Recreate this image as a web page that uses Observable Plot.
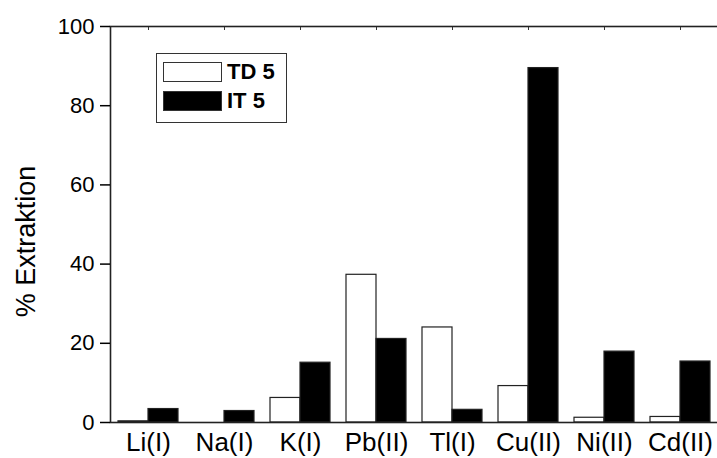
<!DOCTYPE html>
<html><head><meta charset="utf-8">
<script src="https://cdn.jsdelivr.net/npm/d3@7"></script>
<script src="https://cdn.jsdelivr.net/npm/@observablehq/plot@0.6"></script>
<style>
body{margin:0;background:#fff;font-family:"Liberation Sans",Arial,Helvetica,sans-serif}
#wrap{position:relative;width:717px;height:458px;overflow:hidden}
#legend{position:absolute;left:156px;top:53px;width:131px;height:70px;border:1.5px solid #333;background:#fff;box-sizing:border-box;padding:8px 0 0 6px}
.row{display:flex;align-items:center;height:20px;margin-bottom:9px}
.sw{width:59px;height:20px;border:1.2px solid #333;box-sizing:border-box;margin-right:5px}
.lt{font-weight:bold;font-size:22px;color:#000}
</style></head><body><div id="wrap"></div>
<script>
const categories = ["Li(I)","Na(I)","K(I)","Pb(II)","Tl(I)","Cu(II)","Ni(II)","Cd(II)"];
const seriesNames = ["TD 5","IT 5"];
const td5 = [0.3, 0, 6.2, 37.3, 24.0, 9.2, 1.2, 1.4];
const it5 = [3.4, 2.9, 15.1, 21.1, 3.2, 89.5, 17.9, 15.4];
const yTicks = [0, 20, 40, 60, 80, 100];
const yLabel = "% Extraktion";
const seriesFill = ["#ffffff", "#000000"];

const data = categories.flatMap((c, i) => [
  {cat: c, series: seriesNames[0], value: td5[i]},
  {cat: c, series: seriesNames[1], value: it5[i]}
]);

const chart = Plot.plot({
  width: 717, height: 458,
  marginLeft: 107, marginRight: -3, marginTop: 26, marginBottom: 36,
  style: {fontFamily: '"Liberation Sans", Arial, Helvetica, sans-serif', color: "#000", background: "white", overflow: "visible"},
  fx: {domain: categories, padding: 0, label: null},
  x: {domain: seriesNames, paddingInner: 0, paddingOuter: 0.236, axis: null},
  y: {domain: [0, 100], label: null},
  color: {domain: seriesNames, range: seriesFill},
  marks: [
    Plot.barY(data, {fx: "cat", x: "series", y: "value", fill: "series", stroke: "#222", strokeWidth: 1.2}),
    Plot.frame({facet: "super", stroke: "#222", strokeWidth: 1.6}),
    Plot.axisY({ticks: yTicks, tickSize: 10, tickPadding: 6, fontSize: 22, label: null, color: "#000", strokeWidth: 1.5}),
    Plot.axisFx({anchor: "bottom", tickSize: 0, tickPadding: 10, fontSize: 26, label: null, color: "#000"}),
    Plot.axisFx({anchor: "top", tickSize: -3, tickFormat: () => "", label: null, color: "#333"}),
    Plot.text([yLabel], {facet: "super", text: d => d, frameAnchor: "left", textAnchor: "middle", rotate: -90, dx: -84, dy: 17, fontSize: 27, fill: "#000"})
  ]
});

const wrap = document.getElementById("wrap");
wrap.appendChild(chart);
const legend = document.createElement("div");
legend.id = "legend";
seriesNames.forEach((s, i) => {
  const row = document.createElement("div");
  row.className = "row";
  const sw = document.createElement("div");
  sw.className = "sw";
  sw.style.background = seriesFill[i];
  const lt = document.createElement("span");
  lt.className = "lt";
  lt.textContent = s;
  row.appendChild(sw); row.appendChild(lt);
  legend.appendChild(row);
});
wrap.appendChild(legend);
</script></body></html>
